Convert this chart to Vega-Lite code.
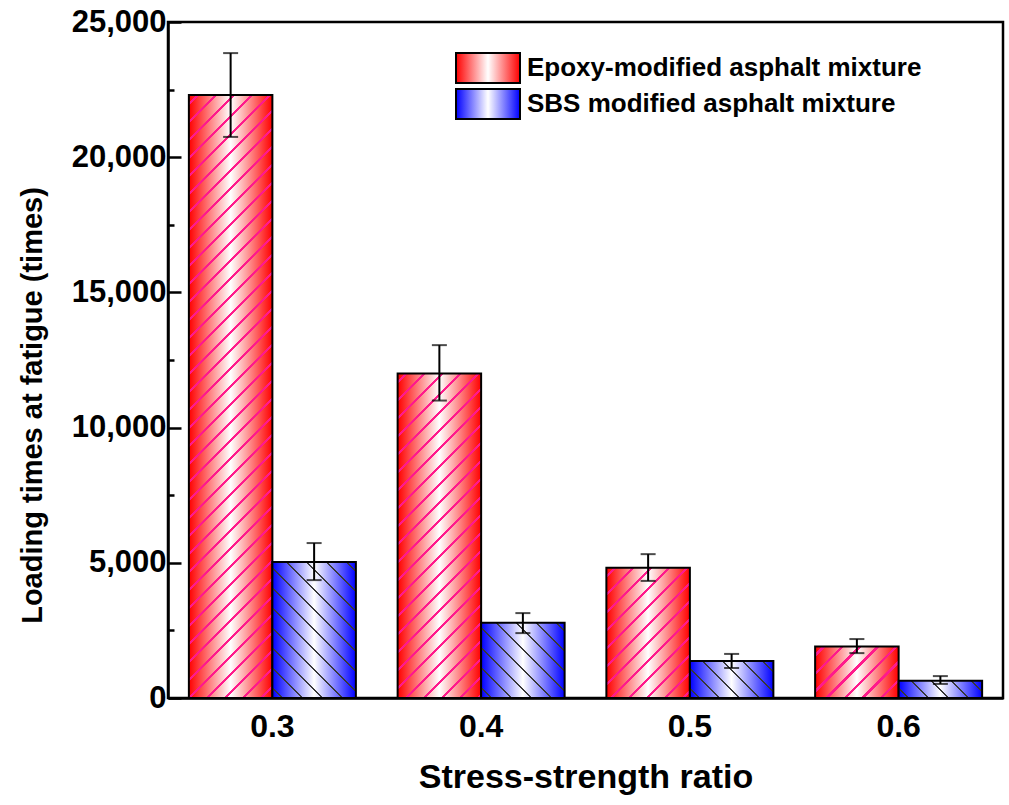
{
  "$schema": "https://vega.github.io/schema/vega-lite/v6.json",
  "width": 835,
  "height": 676,
  "autosize": {"type": "none"},
  "padding": {"left": 168, "top": 22, "right": 6, "bottom": 107},
  "background": "white",
  "config": {
    "view": {"stroke": "black", "strokeWidth": 2.5},
    "font": "Liberation Sans"
  },
  "params": [
    {"name": "gradE", "value": {"gradient": "linear", "x1": 0, "y1": 0, "x2": 1, "y2": 0, "stops": [{"offset": 0, "color": "#ff0000"}, {"offset": 0.5, "color": "#ffffff"}, {"offset": 1, "color": "#ff0000"}]}},
    {"name": "gradS", "value": {"gradient": "linear", "x1": 0, "y1": 0, "x2": 1, "y2": 0, "stops": [{"offset": 0, "color": "#0000ff"}, {"offset": 0.5, "color": "#ffffff"}, {"offset": 1, "color": "#0000ff"}]}},
    {"name": "stripesE", "value": [
      {"offset":0.0103,"color":"rgba(255,26,140,0)"},{"offset":0.0103,"color":"#ff1a8c"},{"offset":0.0153,"color":"#ff1a8c"},{"offset":0.0153,"color":"rgba(255,26,140,0)"},
      {"offset":0.0360,"color":"rgba(255,26,140,0)"},{"offset":0.0360,"color":"#ff1a8c"},{"offset":0.0410,"color":"#ff1a8c"},{"offset":0.0410,"color":"rgba(255,26,140,0)"},
      {"offset":0.0616,"color":"rgba(255,26,140,0)"},{"offset":0.0616,"color":"#ff1a8c"},{"offset":0.0666,"color":"#ff1a8c"},{"offset":0.0666,"color":"rgba(255,26,140,0)"},
      {"offset":0.0872,"color":"rgba(255,26,140,0)"},{"offset":0.0872,"color":"#ff1a8c"},{"offset":0.0922,"color":"#ff1a8c"},{"offset":0.0922,"color":"rgba(255,26,140,0)"},
      {"offset":0.1129,"color":"rgba(255,26,140,0)"},{"offset":0.1129,"color":"#ff1a8c"},{"offset":0.1179,"color":"#ff1a8c"},{"offset":0.1179,"color":"rgba(255,26,140,0)"},
      {"offset":0.1385,"color":"rgba(255,26,140,0)"},{"offset":0.1385,"color":"#ff1a8c"},{"offset":0.1435,"color":"#ff1a8c"},{"offset":0.1435,"color":"rgba(255,26,140,0)"},
      {"offset":0.1642,"color":"rgba(255,26,140,0)"},{"offset":0.1642,"color":"#ff1a8c"},{"offset":0.1692,"color":"#ff1a8c"},{"offset":0.1692,"color":"rgba(255,26,140,0)"},
      {"offset":0.1898,"color":"rgba(255,26,140,0)"},{"offset":0.1898,"color":"#ff1a8c"},{"offset":0.1948,"color":"#ff1a8c"},{"offset":0.1948,"color":"rgba(255,26,140,0)"},
      {"offset":0.2154,"color":"rgba(255,26,140,0)"},{"offset":0.2154,"color":"#ff1a8c"},{"offset":0.2204,"color":"#ff1a8c"},{"offset":0.2204,"color":"rgba(255,26,140,0)"},
      {"offset":0.2411,"color":"rgba(255,26,140,0)"},{"offset":0.2411,"color":"#ff1a8c"},{"offset":0.2461,"color":"#ff1a8c"},{"offset":0.2461,"color":"rgba(255,26,140,0)"},
      {"offset":0.2667,"color":"rgba(255,26,140,0)"},{"offset":0.2667,"color":"#ff1a8c"},{"offset":0.2717,"color":"#ff1a8c"},{"offset":0.2717,"color":"rgba(255,26,140,0)"},
      {"offset":0.2924,"color":"rgba(255,26,140,0)"},{"offset":0.2924,"color":"#ff1a8c"},{"offset":0.2974,"color":"#ff1a8c"},{"offset":0.2974,"color":"rgba(255,26,140,0)"},
      {"offset":0.3180,"color":"rgba(255,26,140,0)"},{"offset":0.3180,"color":"#ff1a8c"},{"offset":0.3230,"color":"#ff1a8c"},{"offset":0.3230,"color":"rgba(255,26,140,0)"},
      {"offset":0.3437,"color":"rgba(255,26,140,0)"},{"offset":0.3437,"color":"#ff1a8c"},{"offset":0.3487,"color":"#ff1a8c"},{"offset":0.3487,"color":"rgba(255,26,140,0)"},
      {"offset":0.3693,"color":"rgba(255,26,140,0)"},{"offset":0.3693,"color":"#ff1a8c"},{"offset":0.3743,"color":"#ff1a8c"},{"offset":0.3743,"color":"rgba(255,26,140,0)"},
      {"offset":0.3949,"color":"rgba(255,26,140,0)"},{"offset":0.3949,"color":"#ff1a8c"},{"offset":0.3999,"color":"#ff1a8c"},{"offset":0.3999,"color":"rgba(255,26,140,0)"},
      {"offset":0.4206,"color":"rgba(255,26,140,0)"},{"offset":0.4206,"color":"#ff1a8c"},{"offset":0.4256,"color":"#ff1a8c"},{"offset":0.4256,"color":"rgba(255,26,140,0)"},
      {"offset":0.4462,"color":"rgba(255,26,140,0)"},{"offset":0.4462,"color":"#ff1a8c"},{"offset":0.4512,"color":"#ff1a8c"},{"offset":0.4512,"color":"rgba(255,26,140,0)"},
      {"offset":0.4719,"color":"rgba(255,26,140,0)"},{"offset":0.4719,"color":"#ff1a8c"},{"offset":0.4769,"color":"#ff1a8c"},{"offset":0.4769,"color":"rgba(255,26,140,0)"},
      {"offset":0.4975,"color":"rgba(255,26,140,0)"},{"offset":0.4975,"color":"#ff1a8c"},{"offset":0.5025,"color":"#ff1a8c"},{"offset":0.5025,"color":"rgba(255,26,140,0)"},
      {"offset":0.5231,"color":"rgba(255,26,140,0)"},{"offset":0.5231,"color":"#ff1a8c"},{"offset":0.5281,"color":"#ff1a8c"},{"offset":0.5281,"color":"rgba(255,26,140,0)"},
      {"offset":0.5488,"color":"rgba(255,26,140,0)"},{"offset":0.5488,"color":"#ff1a8c"},{"offset":0.5538,"color":"#ff1a8c"},{"offset":0.5538,"color":"rgba(255,26,140,0)"},
      {"offset":0.5744,"color":"rgba(255,26,140,0)"},{"offset":0.5744,"color":"#ff1a8c"},{"offset":0.5794,"color":"#ff1a8c"},{"offset":0.5794,"color":"rgba(255,26,140,0)"},
      {"offset":0.6001,"color":"rgba(255,26,140,0)"},{"offset":0.6001,"color":"#ff1a8c"},{"offset":0.6051,"color":"#ff1a8c"},{"offset":0.6051,"color":"rgba(255,26,140,0)"},
      {"offset":0.6257,"color":"rgba(255,26,140,0)"},{"offset":0.6257,"color":"#ff1a8c"},{"offset":0.6307,"color":"#ff1a8c"},{"offset":0.6307,"color":"rgba(255,26,140,0)"},
      {"offset":0.6513,"color":"rgba(255,26,140,0)"},{"offset":0.6513,"color":"#ff1a8c"},{"offset":0.6563,"color":"#ff1a8c"},{"offset":0.6563,"color":"rgba(255,26,140,0)"},
      {"offset":0.6770,"color":"rgba(255,26,140,0)"},{"offset":0.6770,"color":"#ff1a8c"},{"offset":0.6820,"color":"#ff1a8c"},{"offset":0.6820,"color":"rgba(255,26,140,0)"},
      {"offset":0.7026,"color":"rgba(255,26,140,0)"},{"offset":0.7026,"color":"#ff1a8c"},{"offset":0.7076,"color":"#ff1a8c"},{"offset":0.7076,"color":"rgba(255,26,140,0)"},
      {"offset":0.7283,"color":"rgba(255,26,140,0)"},{"offset":0.7283,"color":"#ff1a8c"},{"offset":0.7333,"color":"#ff1a8c"},{"offset":0.7333,"color":"rgba(255,26,140,0)"},
      {"offset":0.7539,"color":"rgba(255,26,140,0)"},{"offset":0.7539,"color":"#ff1a8c"},{"offset":0.7589,"color":"#ff1a8c"},{"offset":0.7589,"color":"rgba(255,26,140,0)"},
      {"offset":0.7796,"color":"rgba(255,26,140,0)"},{"offset":0.7796,"color":"#ff1a8c"},{"offset":0.7846,"color":"#ff1a8c"},{"offset":0.7846,"color":"rgba(255,26,140,0)"},
      {"offset":0.8052,"color":"rgba(255,26,140,0)"},{"offset":0.8052,"color":"#ff1a8c"},{"offset":0.8102,"color":"#ff1a8c"},{"offset":0.8102,"color":"rgba(255,26,140,0)"},
      {"offset":0.8308,"color":"rgba(255,26,140,0)"},{"offset":0.8308,"color":"#ff1a8c"},{"offset":0.8358,"color":"#ff1a8c"},{"offset":0.8358,"color":"rgba(255,26,140,0)"},
      {"offset":0.8565,"color":"rgba(255,26,140,0)"},{"offset":0.8565,"color":"#ff1a8c"},{"offset":0.8615,"color":"#ff1a8c"},{"offset":0.8615,"color":"rgba(255,26,140,0)"},
      {"offset":0.8821,"color":"rgba(255,26,140,0)"},{"offset":0.8821,"color":"#ff1a8c"},{"offset":0.8871,"color":"#ff1a8c"},{"offset":0.8871,"color":"rgba(255,26,140,0)"},
      {"offset":0.9078,"color":"rgba(255,26,140,0)"},{"offset":0.9078,"color":"#ff1a8c"},{"offset":0.9128,"color":"#ff1a8c"},{"offset":0.9128,"color":"rgba(255,26,140,0)"},
      {"offset":0.9334,"color":"rgba(255,26,140,0)"},{"offset":0.9334,"color":"#ff1a8c"},{"offset":0.9384,"color":"#ff1a8c"},{"offset":0.9384,"color":"rgba(255,26,140,0)"},
      {"offset":0.9590,"color":"rgba(255,26,140,0)"},{"offset":0.9590,"color":"#ff1a8c"},{"offset":0.9640,"color":"#ff1a8c"},{"offset":0.9640,"color":"rgba(255,26,140,0)"},
      {"offset":0.9847,"color":"rgba(255,26,140,0)"},{"offset":0.9847,"color":"#ff1a8c"},{"offset":0.9897,"color":"#ff1a8c"},{"offset":0.9897,"color":"rgba(255,26,140,0)"}
    ]},
    {"name": "stripesS", "value": [
      {"offset":0.0379,"color":"rgba(40,40,40,0)"},{"offset":0.0379,"color":"#383838"},{"offset":0.0455,"color":"#383838"},{"offset":0.0455,"color":"rgba(40,40,40,0)"},
      {"offset":0.1212,"color":"rgba(40,40,40,0)"},{"offset":0.1212,"color":"#383838"},{"offset":0.1288,"color":"#383838"},{"offset":0.1288,"color":"rgba(40,40,40,0)"},
      {"offset":0.2045,"color":"rgba(40,40,40,0)"},{"offset":0.2045,"color":"#383838"},{"offset":0.2121,"color":"#383838"},{"offset":0.2121,"color":"rgba(40,40,40,0)"},
      {"offset":0.2879,"color":"rgba(40,40,40,0)"},{"offset":0.2879,"color":"#383838"},{"offset":0.2955,"color":"#383838"},{"offset":0.2955,"color":"rgba(40,40,40,0)"},
      {"offset":0.3712,"color":"rgba(40,40,40,0)"},{"offset":0.3712,"color":"#383838"},{"offset":0.3788,"color":"#383838"},{"offset":0.3788,"color":"rgba(40,40,40,0)"},
      {"offset":0.4545,"color":"rgba(40,40,40,0)"},{"offset":0.4545,"color":"#383838"},{"offset":0.4621,"color":"#383838"},{"offset":0.4621,"color":"rgba(40,40,40,0)"},
      {"offset":0.5379,"color":"rgba(40,40,40,0)"},{"offset":0.5379,"color":"#383838"},{"offset":0.5455,"color":"#383838"},{"offset":0.5455,"color":"rgba(40,40,40,0)"},
      {"offset":0.6212,"color":"rgba(40,40,40,0)"},{"offset":0.6212,"color":"#383838"},{"offset":0.6288,"color":"#383838"},{"offset":0.6288,"color":"rgba(40,40,40,0)"},
      {"offset":0.7045,"color":"rgba(40,40,40,0)"},{"offset":0.7045,"color":"#383838"},{"offset":0.7121,"color":"#383838"},{"offset":0.7121,"color":"rgba(40,40,40,0)"},
      {"offset":0.7879,"color":"rgba(40,40,40,0)"},{"offset":0.7879,"color":"#383838"},{"offset":0.7955,"color":"#383838"},{"offset":0.7955,"color":"rgba(40,40,40,0)"},
      {"offset":0.8712,"color":"rgba(40,40,40,0)"},{"offset":0.8712,"color":"#383838"},{"offset":0.8788,"color":"#383838"},{"offset":0.8788,"color":"rgba(40,40,40,0)"},
      {"offset":0.9545,"color":"rgba(40,40,40,0)"},{"offset":0.9545,"color":"#383838"},{"offset":0.9621,"color":"#383838"},{"offset":0.9621,"color":"rgba(40,40,40,0)"}
    ]}
  ],
  "data": {"values": [
    {"ratio": "0.3", "type": "Epoxy-modified asphalt mixture", "value": 22300, "low": 20750, "high": 23850},
    {"ratio": "0.4", "type": "Epoxy-modified asphalt mixture", "value": 12000, "low": 11000, "high": 13050},
    {"ratio": "0.5", "type": "Epoxy-modified asphalt mixture", "value": 4820, "low": 4330, "high": 5320},
    {"ratio": "0.6", "type": "Epoxy-modified asphalt mixture", "value": 1900, "low": 1660, "high": 2180},
    {"ratio": "0.3", "type": "SBS modified asphalt mixture", "value": 5030, "low": 4360, "high": 5730},
    {"ratio": "0.4", "type": "SBS modified asphalt mixture", "value": 2780, "low": 2400, "high": 3140},
    {"ratio": "0.5", "type": "SBS modified asphalt mixture", "value": 1370, "low": 1110, "high": 1630},
    {"ratio": "0.6", "type": "SBS modified asphalt mixture", "value": 640, "low": 520, "high": 810}
  ]},
  "encoding": {
    "x": {
      "field": "ratio", "type": "nominal",
      "scale": {"paddingInner": 0.2, "paddingOuter": 0.1},
      "axis": {
        "title": "Stress-strength ratio",
        "labelAngle": 0,
        "ticks": false,
        "domainColor": "black", "domainWidth": 2.5,
        "labelFont": "Liberation Sans", "labelFontSize": 32, "labelFontWeight": "bold", "labelColor": "black",
        "labelPadding": 13,
        "titleFont": "Liberation Sans", "titleFontSize": 34, "titleFontWeight": "bold", "titleColor": "black",
        "titleBaseline": "alphabetic",
        "titleY": 89
      }
    },
    "xOffset": {
      "field": "type", "type": "nominal",
      "scale": {"domain": ["Epoxy-modified asphalt mixture", "SBS modified asphalt mixture"], "paddingInner": 0, "paddingOuter": 0}
    },
    "y": {
      "field": "value", "type": "quantitative",
      "scale": {"domain": [0, 25000], "nice": false},
      "axis": {
        "title": "Loading times at fatigue (times)",
        "values": [0, 2500, 5000, 7500, 10000, 12500, 15000, 17500, 20000, 22500, 25000],
        "labelExpr": "datum.value % 5000 === 0 ? format(datum.value, ',') : ''",
        "tickSize": {"condition": {"test": "datum.value % 5000 === 0", "value": -13}, "value": -6},
        "tickWidth": 2.5, "tickColor": "black",
        "domainColor": "black", "domainWidth": 2.5,
        "grid": false,
        "labelFont": "Liberation Sans", "labelFontSize": 31, "labelFontWeight": "bold", "labelColor": "black",
        "labelPadding": 15,
        "titleFont": "Liberation Sans", "titleFontSize": 29, "titleFontWeight": "bold", "titleColor": "black",
        "titleBaseline": "alphabetic",
        "titleX": -127,
        "titleY": 383
      }
    }
  },
  "layer": [
    {
      "transform": [{"filter": "datum.type === 'Epoxy-modified asphalt mixture'"}],
      "mark": {"type": "bar", "stack": null, "fill": {"expr": "gradE"}}
    },
    {
      "transform": [{"filter": "datum.type === 'Epoxy-modified asphalt mixture'"}],
      "mark": {"type": "bar", "stack": null, "stroke": "black", "strokeWidth": 2,
        "fill": {"expr": "{gradient: 'linear', x1: 0, y1: 0, x2: 702*bandwidth('xOffset')/(pow(bandwidth('xOffset'),2)+pow(scale('y',0)-scale('y',datum.value),2)), y2: 702*(scale('y',0)-scale('y',datum.value))/(pow(bandwidth('xOffset'),2)+pow(scale('y',0)-scale('y',datum.value),2)), stops: stripesE}"}}
    },
    {
      "transform": [{"filter": "datum.type === 'SBS modified asphalt mixture'"}],
      "mark": {"type": "bar", "stack": null, "fill": {"expr": "gradS"}}
    },
    {
      "transform": [{"filter": "datum.type === 'SBS modified asphalt mixture'"}],
      "mark": {"type": "bar", "stack": null, "stroke": "black", "strokeWidth": 2,
        "fill": {"expr": "{gradient: 'linear', x1: 0, y1: 1, x2: 240*bandwidth('xOffset')/(pow(bandwidth('xOffset'),2)+pow(scale('y',0)-scale('y',datum.value),2)), y2: 1-240*(scale('y',0)-scale('y',datum.value))/(pow(bandwidth('xOffset'),2)+pow(scale('y',0)-scale('y',datum.value),2)), stops: stripesS}"}}
    },
    {
      "mark": {"type": "rule", "color": "black", "strokeWidth": 2},
      "encoding": {"y": {"field": "low", "type": "quantitative"}, "y2": {"field": "high"}}
    },
    {
      "mark": {"type": "tick", "color": "black", "thickness": 2, "size": 15},
      "encoding": {"y": {"field": "low", "type": "quantitative"}}
    },
    {
      "mark": {"type": "tick", "color": "black", "thickness": 2, "size": 15},
      "encoding": {"y": {"field": "high", "type": "quantitative"}}
    },
    {
      "mark": {"type": "square", "opacity": 0},
      "encoding": {
        "color": {
          "field": "type", "type": "nominal",
          "scale": {"range": [{"expr": "gradE"}, {"expr": "gradS"}]},
          "legend": {
            "title": null,
            "orient": "none",
            "legendX": 304,
            "legendY": 30,
            "symbolType": "M-2.133,-1H2.133V1H-2.133Z",
            "symbolSize": 900,
            "symbolOpacity": 1,
            "symbolStrokeColor": "black",
            "symbolStrokeWidth": 2,
            "labelOffset": 23,
            "rowPadding": -2,
            "labelFont": "Liberation Sans", "labelFontSize": 26, "labelFontWeight": "bold", "labelColor": "black",
            "labelLimit": 600,
            "encode": {
              "symbols": {"update": {
                "opacity": {"value": 1},
                "fillOpacity": {"value": 1},
                "stroke": {"value": "black"},
                "strokeWidth": {"value": 2}
              }}
            }
          }
        }
      }
    }
  ]
}
